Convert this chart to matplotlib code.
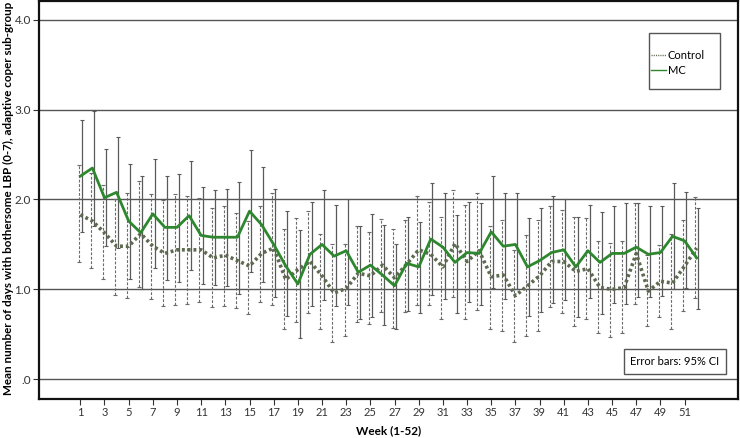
import matplotlib
matplotlib.use("Agg")
import matplotlib.pyplot as plt
from matplotlib.patches import Rectangle
import numpy as np

weeks = list(range(1, 53))

control_mean = [1.83, 1.76, 1.63, 1.48, 1.48, 1.62, 1.48, 1.40, 1.44, 1.44,
                1.44, 1.35, 1.38, 1.32, 1.26, 1.40, 1.46, 1.11, 1.22, 1.31,
                1.15, 0.96, 1.01, 1.18, 1.15, 1.27, 1.13, 1.28, 1.44, 1.39,
                1.25, 1.51, 1.31, 1.43, 1.14, 1.16, 0.93, 1.04, 1.15, 1.31,
                1.31, 1.20, 1.23, 1.02, 1.00, 1.02, 1.40, 0.98, 1.09, 1.07,
                1.26, 1.46]
control_low = [1.30, 1.24, 1.11, 0.94, 0.90, 1.03, 0.89, 0.81, 0.83, 0.84,
               0.86, 0.80, 0.81, 0.79, 0.73, 0.86, 0.83, 0.56, 0.64, 0.74,
               0.56, 0.41, 0.48, 0.64, 0.62, 0.75, 0.57, 0.75, 0.83, 0.83,
               0.67, 0.91, 0.67, 0.77, 0.56, 0.54, 0.41, 0.48, 0.54, 0.80,
               0.74, 0.59, 0.67, 0.51, 0.47, 0.51, 0.84, 0.59, 0.69, 0.56,
               0.76, 0.90]
control_high = [2.38, 2.30, 2.16, 2.00, 2.07, 2.21, 2.06, 1.99, 2.06, 2.04,
                2.02, 1.91, 1.93, 1.85, 1.76, 1.93, 2.07, 1.67, 1.79, 1.87,
                1.62, 1.50, 1.51, 1.71, 1.64, 1.78, 1.67, 1.77, 2.04, 1.97,
                1.81, 2.11, 1.94, 2.07, 1.71, 1.77, 1.44, 1.60, 1.77, 1.93,
                1.88, 1.81, 1.79, 1.54, 1.52, 1.54, 1.96, 1.38, 1.49, 1.62,
                1.77, 2.03]

mc_mean = [2.26, 2.35, 2.02, 2.08, 1.76, 1.63, 1.84, 1.69, 1.69, 1.82,
           1.60, 1.58, 1.58, 1.58, 1.87, 1.72, 1.50, 1.26, 1.06, 1.39,
           1.50, 1.37, 1.43, 1.19, 1.27, 1.16, 1.04, 1.29, 1.25, 1.56,
           1.47, 1.30, 1.41, 1.40, 1.64, 1.48, 1.50, 1.25, 1.32, 1.41,
           1.44, 1.25, 1.43, 1.30, 1.40, 1.40, 1.47, 1.39, 1.41, 1.59,
           1.54, 1.35]
mc_low = [1.64, 1.71, 1.48, 1.46, 1.12, 1.00, 1.24, 1.10, 1.08, 1.21,
          1.06, 1.05, 1.04, 0.95, 1.19, 1.08, 0.91, 0.70, 0.46, 0.82,
          0.88, 0.81, 0.83, 0.67, 0.69, 0.60, 0.56, 0.76, 0.74, 0.94,
          0.89, 0.74, 0.86, 0.83, 1.02, 0.89, 1.00, 0.70, 0.75, 0.85,
          0.88, 0.69, 0.90, 0.73, 0.85, 0.84, 0.92, 0.91, 0.93, 1.00,
          1.01, 0.78]
mc_high = [2.88, 2.99, 2.56, 2.69, 2.40, 2.26, 2.45, 2.26, 2.28, 2.43,
           2.14, 2.11, 2.12, 2.20, 2.55, 2.36, 2.12, 1.87, 1.66, 1.97,
           2.11, 1.94, 2.01, 1.70, 1.84, 1.72, 1.51, 1.81, 1.75, 2.18,
           2.07, 1.83, 1.97, 1.96, 2.26, 2.07, 2.07, 1.79, 1.91, 2.04,
           2.00, 1.81, 1.94, 1.86, 1.93, 1.96, 1.96, 1.93, 1.93, 2.18,
           2.08, 1.90]

xtick_weeks = list(range(1, 52, 2))
yticks = [0, 1, 2, 3, 4]
ytick_labels = [".0", "1.0", "2.0", "3.0", "4.0"]

plt.rcParams['font.family'] = ['Lato', 'DejaVu Sans']

fig = plt.figure(figsize=(7.4, 4.38), dpi=100)
ax = fig.add_axes([0.053, 0.089, 0.944, 0.909])

w = np.array(weeks, dtype=float)
dodge = 0.14

for y in yticks:
    ax.axhline(y, color='#555555', lw=1.0, zorder=1)

cm = np.array(control_mean); cl = np.array(control_low); ch = np.array(control_high)
mm = np.array(mc_mean); ml = np.array(mc_low); mh = np.array(mc_high)

eb1 = ax.errorbar(w - dodge, cm, yerr=[cm - cl, ch - cm], fmt='none',
                  ecolor='#6a6a6a', elinewidth=0.8, capsize=1.5, capthick=0.8, zorder=2)
for lc in eb1[2]:
    lc.set_linestyle((0, (2.5, 1.5)))
eb2 = ax.errorbar(w + dodge, mm, yerr=[mm - ml, mh - mm], fmt='none',
                  ecolor='#5a5a5a', elinewidth=0.9, capsize=1.5, capthick=0.8, zorder=2)

ax.plot(w, cm, color='#5e6a50', lw=2.6, linestyle=(0, (0.8, 0.8)), zorder=3,
        label='Control')
ax.plot(w, mm, color='#2e872e', lw=2.0, zorder=4, label='MC')

ax.set_xlim(-2.4, 55.4)
ax.set_ylim(-0.22, 4.21)
ax.set_xticks(xtick_weeks)
ax.set_xticklabels([str(x) for x in xtick_weeks], fontsize=8)
ax.set_yticks(yticks)
ax.set_yticklabels(ytick_labels, fontsize=8.5, color='#333333')
ax.tick_params(axis='both', direction='out', length=4, width=0.8, colors='#333333',
               pad=2)
for s in ax.spines.values():
    s.set_linewidth(1.6)
    s.set_color('#111111')

ax.set_xlabel('Week (1-52)', fontsize=8.5, fontweight='bold', labelpad=5)
ax.set_ylabel('Mean number of days with bothersome LBP (0-7), adaptive coper sub-group',
              fontsize=8.4, fontweight='bold')
ax.yaxis.set_label_coords(-0.036, 0.505)

ax.add_patch(Rectangle((0.873, 0.779), 0.101, 0.141, transform=ax.transAxes,
                       fill=True, fc='white', ec='#555555', lw=1.0, zorder=5))
leg = ax.legend(loc='upper left', bbox_to_anchor=(0.876, 0.877), fontsize=8,
                frameon=False, borderpad=0, borderaxespad=0,
                handlelength=1.3, handletextpad=0.2, labelspacing=0.35)
leg.set_zorder(6)
for line in leg.get_lines():
    line.set_linewidth(1.0)

ax.text(0.91, 0.094, 'Error bars: 95% CI', transform=ax.transAxes, fontsize=8,
        ha='center', va='center',
        bbox=dict(boxstyle='square,pad=0.6', fc='white', ec='#555555', lw=1.0))

fig.savefig('out.png', dpi=100)
